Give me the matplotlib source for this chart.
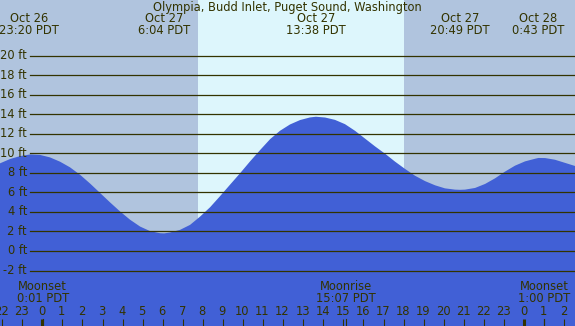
import matplotlib
matplotlib.use("Agg")
import matplotlib.pyplot as plt
from matplotlib.transforms import blended_transform_factory

# tide curve, hours since Oct 27 00:00 PDT
tide_hours = [-2.11, -1.61, -1.11, -0.61, -0.11, 0.38, 0.88, 1.38, 1.88, 2.38, 2.87, 3.37,
              3.87, 4.37, 4.87, 5.37, 5.86, 6.07, 6.36, 6.86, 7.36, 7.86, 8.36, 8.85, 9.35,
              9.85, 10.35, 10.85, 11.35, 11.84, 12.34, 12.84, 13.34, 13.63, 14.09, 14.58,
              15.08, 15.58, 16.08, 16.58, 17.08, 17.57, 18.07, 18.57, 19.07, 19.57, 20.06,
              20.56, 20.81, 21.06, 21.56, 22.06, 22.56, 23.05, 23.55, 24.05, 24.55, 24.72,
              25.05, 25.54, 26.04, 26.54]
tide_ft = [8.97, 9.41, 9.71, 9.88, 9.83, 9.58, 9.14, 8.56, 7.8, 6.9, 5.95, 4.98,
           4.05, 3.2, 2.5, 2.03, 1.82, 1.8, 1.89, 2.16, 2.67, 3.52, 4.48, 5.6, 6.78,
           7.95, 9.17, 10.33, 11.45, 12.3, 12.95, 13.4, 13.67, 13.74, 13.66, 13.42,
           12.98, 12.3, 11.5, 10.7, 9.95, 9.15, 8.4, 7.7, 7.15, 6.72, 6.41,
           6.28, 6.26, 6.28, 6.45, 6.86, 7.44, 8.12, 8.73, 9.17, 9.44, 9.52,
           9.51, 9.34, 9.02, 8.7]

ext_hours = [-1 + 20/60, 6 + 4/60, 13 + 38/60, 20 + 49/60, 24 + 43/60]
ext_dates = ["Oct 26", "Oct 27", "Oct 27", "Oct 27", "Oct 28"]
ext_times = ["23:20 PDT", "6:04 PDT", "13:38 PDT", "20:49 PDT", "0:43 PDT"]

sunrise = 7.74
sunset = 18.02

moon_hours = [1/60, 15 + 7/60, 25.0]
moon_names = ["Moonset", "Moonrise", "Moonset"]
moon_times = ["0:01 PDT", "15:07 PDT", "1:00 PDT"]

feet = list(range(-2, 21, 2))
hours = list(range(-2, 27))

title = "Olympia, Budd Inlet, Puget Sound, Washington"

night = "#b0c4de"
day = "#ddf6fc"
water = "#4160d6"
ink = "#333300"
fs = 8.3

W, H = 575, 326
fig = plt.figure(figsize=(W/100, H/100), dpi=100)
ax = fig.add_axes([0, 0, 1, 1])
ax.set_xlim(-2.11, 26.54)
ax.set_ylim(-7.68, 25.69)
ax.axis("off")
fig.patch.set_facecolor(night)

ax.axvspan(sunrise, sunset, color=day, lw=0, zorder=1)
ax.fill_between(tide_hours, tide_ft, -10, color=water, lw=0, zorder=2)

yt = blended_transform_factory(ax.transAxes, ax.transData)
for f in feet:
    ax.axhline(f, xmin=29.5/W, xmax=1, color=ink, lw=0.9, zorder=3)
    ax.text(27/W, f, f"{f} ft", transform=yt, ha="right", va="center",
            fontsize=fs, color=ink, zorder=4)

bt = blended_transform_factory(ax.transData, fig.transFigure)

def py(p):
    return 1 - p/H

fig.text(0.5, py(8), title, ha="center", va="center", fontsize=fs, color=ink)
for h, d, t in zip(ext_hours, ext_dates, ext_times):
    ax.text(h, py(19), d, transform=bt, ha="center", va="center", fontsize=fs, color=ink)
    ax.text(h, py(31), t, transform=bt, ha="center", va="center", fontsize=fs, color=ink)

for h, n, t in zip(moon_hours, moon_names, moon_times):
    ax.text(h, py(287), n, transform=bt, ha="center", va="center", fontsize=fs, color=ink)
    ax.text(h, py(299), t, transform=bt, ha="center", va="center", fontsize=fs, color=ink)
    ax.plot([h, h], [py(319), py(327)], transform=bt, color=ink, lw=0.8, zorder=5)

for h in hours:
    ax.text(h - 0.03, py(311.5), str(h % 24), transform=bt, ha="center", va="center",
            fontsize=fs, color=ink)
    thick = h % 24 == 0
    ax.plot([h, h], [py(319), py(327)], transform=bt, color=ink,
            lw=2.2 if thick else 0.8, zorder=5, solid_capstyle="butt")

fig.savefig("out.png", dpi=100, facecolor=fig.get_facecolor())
